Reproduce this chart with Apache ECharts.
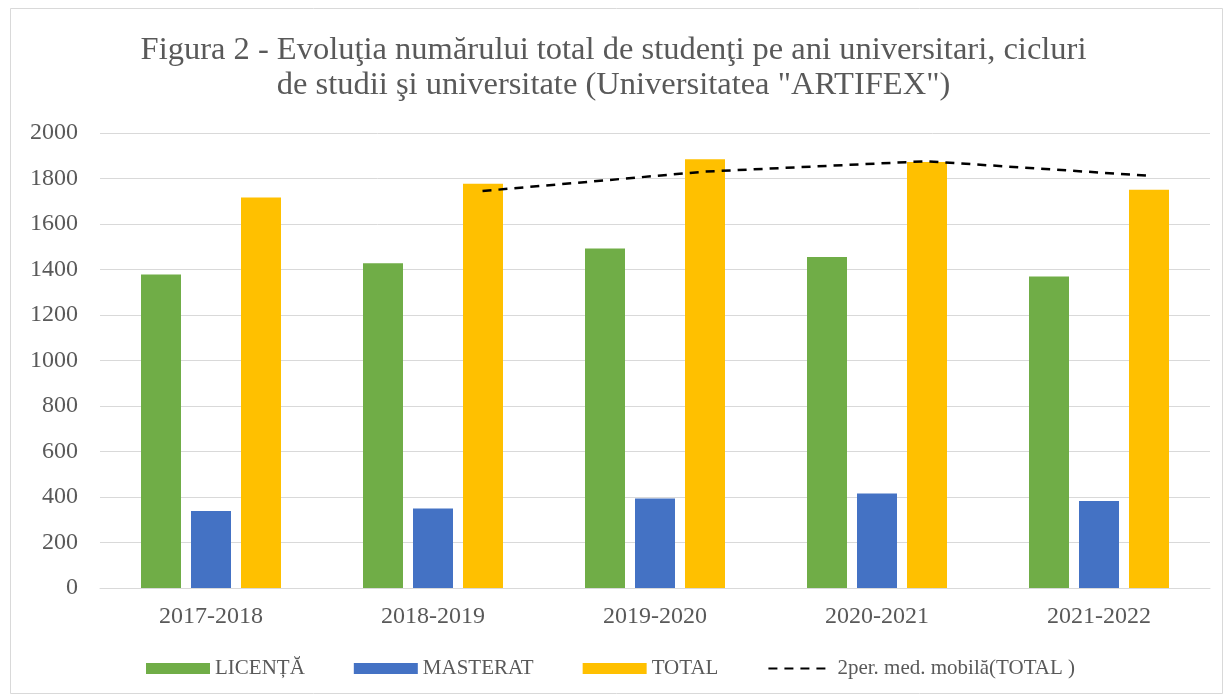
<!DOCTYPE html>
<html>
<head>
    <meta charset="utf-8">
    <title>ECharts</title>
    <script src="https://cdn.jsdelivr.net/npm/echarts@6/dist/echarts.min.js"></script>
    <style>
        html, body { margin: 0; padding: 0; background: #fff; }
    </style>
</head>
<body>
    <div id="main" style="width: 1227px;height:697px;"></div>
    <script type="text/javascript">
        // date
        var years = ['2017-2018', '2018-2019', '2019-2020', '2020-2021', '2021-2022'];
        var licenta = [1378, 1428, 1492, 1455, 1369];
        var masterat = [338, 350, 393, 415, 382];
        var total = [1716, 1777, 1885, 1872, 1751];
        // media mobila pe 2 perioade (prima perioada nu are valoare)
        var mediaMobila = [null, 1745, 1830, 1876, 1812];
        var yTicks = { min: 0, max: 2000, interval: 200 };

        var FONT = '"Liberation Serif", "DejaVu Serif", serif';
        var GREY = '#595959';
        // bara TOTAL e a treia din grup, deplasata fata de centrul categoriei
        var TOTAL_OFFSET = 0.223;

        var lineData = [];
        for (var i = 0; i < mediaMobila.length; i++) {
            if (mediaMobila[i] != null) {
                lineData.push([i + TOTAL_OFFSET, mediaMobila[i]]);
            }
        }

        var option = {
            backgroundColor: '#fff',
            animation: false,
            title: {
                text: 'Figura 2 - Evoluţia numărului total de studenţi pe ani universitari, cicluri\nde studii şi universitate (Universitatea "ARTIFEX")',
                left: 'center',
                top: 28,
                textStyle: {
                    fontFamily: FONT,
                    fontWeight: 'normal',
                    fontSize: 32.5,
                    lineHeight: 35,
                    color: GREY
                }
            },
            legend: {
                left: 141,
                top: 653,
                itemWidth: 64,
                itemHeight: 11,
                itemGap: 49,
                textStyle: { fontFamily: FONT, fontSize: 21, color: GREY },
                data: [
                    { name: 'LICENȚĂ', icon: 'rect' },
                    { name: 'MASTERAT', icon: 'rect' },
                    { name: 'TOTAL', icon: 'rect' },
                    { name: '2per. med. mobilă(TOTAL )', itemStyle: { opacity: 0 } }
                ]
            },
            grid: {
                left: 100,
                right: 17,
                top: 133,
                bottom: 109,
                containLabel: false
            },
            xAxis: [{
                type: 'category',
                data: years,
                axisLine: { lineStyle: { color: '#d9d9d9', width: 1 } },
                axisTick: { show: false },
                axisLabel: { fontFamily: FONT, fontSize: 24, color: GREY, margin: 17 }
            }, {
                type: 'value',
                min: -0.5,
                max: 4.5,
                show: false
            }],
            yAxis: {
                type: 'value',
                min: yTicks.min,
                max: yTicks.max,
                interval: yTicks.interval,
                axisLine: { show: false },
                axisTick: { show: false },
                splitLine: { lineStyle: { color: '#d9d9d9', width: 1 } },
                axisLabel: {
                    fontFamily: FONT, fontSize: 24, color: GREY, margin: 22,
                    formatter: function (v) { return String(v); }
                }
            },
            series: [{
                name: 'LICENȚĂ',
                type: 'bar',
                barWidth: 40,
                barGap: '25%',
                itemStyle: { color: '#70ad47' },
                data: licenta
            }, {
                name: 'MASTERAT',
                type: 'bar',
                barWidth: 40,
                barGap: '25%',
                itemStyle: { color: '#4472c4' },
                data: masterat
            }, {
                name: 'TOTAL',
                type: 'bar',
                barWidth: 40,
                barGap: '25%',
                itemStyle: { color: '#ffc000' },
                data: total
            }, {
                name: '2per. med. mobilă(TOTAL )',
                type: 'line',
                xAxisIndex: 1,
                symbol: 'none',
                smooth: false,
                itemStyle: { color: '#000' },
                lineStyle: { color: '#000', width: 2.5, type: [9, 7] },
                data: lineData,
                z: 5
            }],
            graphic: [{
                type: 'rect',
                shape: { x: 10.5, y: 8.5, width: 1212, height: 685 },
                style: { fill: 'none', stroke: '#d9d9d9', lineWidth: 1 },
                silent: true
            }]
        };

        var myChart = echarts.init(document.getElementById('main'));
        myChart.setOption(option);
    </script>
</body>
</html>
